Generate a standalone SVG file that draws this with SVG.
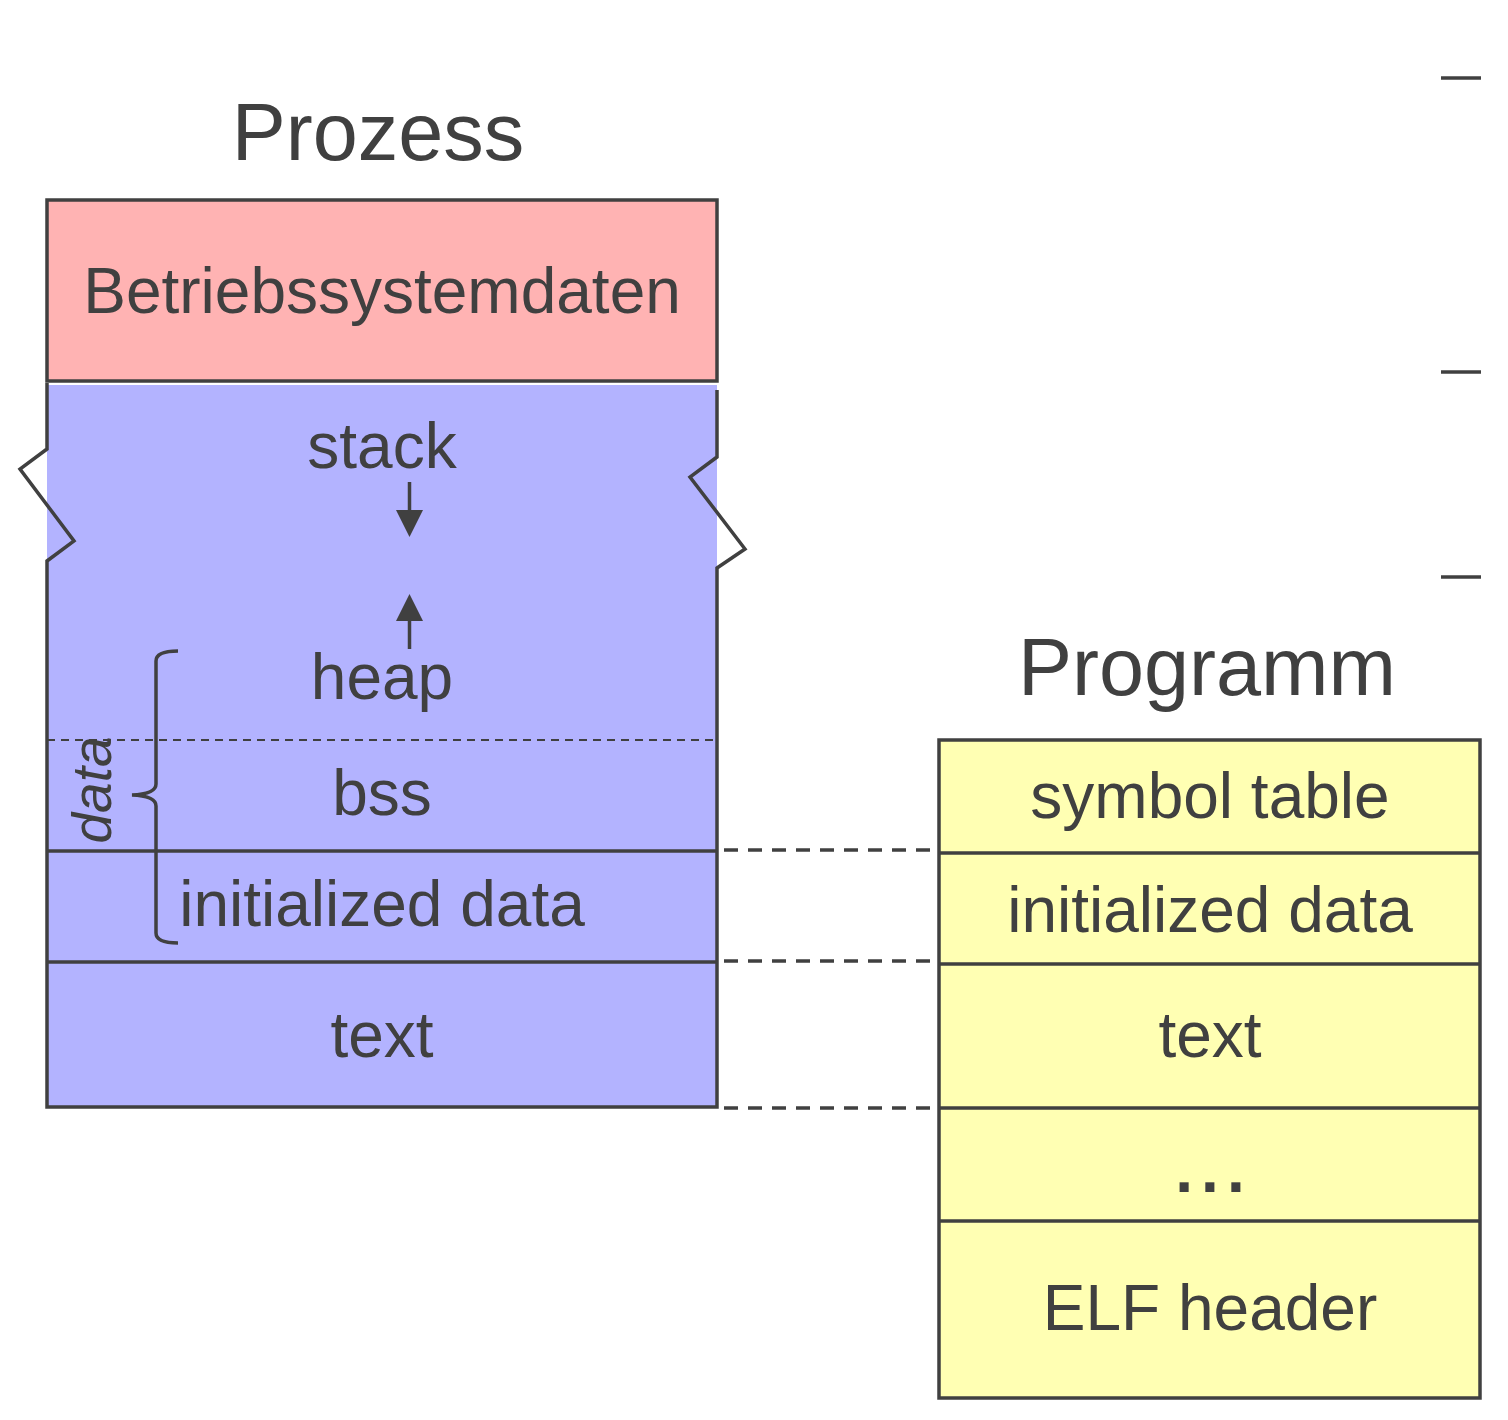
<svg xmlns="http://www.w3.org/2000/svg" width="1508" height="1420" viewBox="0 0 1508 1420">
<style>
.t{font-family:"Liberation Sans",Arial,Helvetica,sans-serif;fill:#404040;text-anchor:middle}
.lbl{font-size:64px}
.ttl{font-size:81px}
.ln{stroke:#404040;stroke-width:3.5;fill:none}
.dash{stroke:#404040;stroke-width:3.5;stroke-dasharray:14 10;fill:none}
.dash2{stroke:#404040;stroke-width:2.2;stroke-dasharray:8 6;fill:none}
</style>
<rect width="1508" height="1420" fill="#ffffff"/>
<g id="ticks">
<line class="ln" x1="1441" y1="78" x2="1481" y2="78" stroke-width="4.5"/>
<line class="ln" x1="1441" y1="372" x2="1481" y2="372" stroke-width="4.5"/>
<line class="ln" x1="1441" y1="577" x2="1481" y2="577" stroke-width="4.5"/>
</g>
<text class="t ttl" x="378" y="160">Prozess</text>
<text class="t ttl" x="1207" y="695" font-size="83">Programm</text>
<g id="betriebssystemdaten">
<rect x="47" y="200" width="670" height="181" fill="#ffb3b3" stroke="#404040" stroke-width="3.5"/>
<text class="t lbl" x="382" y="313">Betriebssystemdaten</text>
</g>
<g id="prozess-memory">
<rect x="47" y="385" width="670" height="722" fill="#b3b3ff"/>
<path class="ln" d="M47,383 L47,449 L20,469 L74,541 L47,561 L47,1107 L717,1107 L717,568 L745,549 L690,477 L717,457 L717,390"/>
<line class="dash2" x1="47" y1="740" x2="717" y2="740"/>
<line class="ln" x1="47" y1="851" x2="717" y2="851"/>
<line class="ln" x1="47" y1="962" x2="717" y2="962"/>
</g>
<g id="stack">
<text class="t lbl" x="382" y="468">stack</text>
<line class="ln" x1="409.5" y1="482" x2="409.5" y2="514" stroke-width="4.5"/>
<polygon points="396,510 423,510 409.5,537" fill="#404040"/>
</g>
<g id="heap">
<polygon points="396,621 423,621 409.5,594" fill="#404040"/>
<line class="ln" x1="409.5" y1="617" x2="409.5" y2="649" stroke-width="4.5"/>
<text class="t lbl" x="382" y="699">heap</text>
</g>
<g id="bss"><text class="t lbl" x="382" y="815">bss</text></g>
<g id="initialized-data-left"><text class="t lbl" x="382" y="926">initialized data</text></g>
<g id="text-left"><text class="t lbl" x="382" y="1057">text</text></g>
<g id="data-brace">
<path class="ln" d="M178,651 Q156,651 156,661 L156,784 Q156,794 132,795 Q156,796 156,806 L156,933 Q156,943 178,943"/>
<text class="t" font-size="55" font-style="italic" transform="translate(111,790) rotate(-90)">data</text>
</g>
<g id="programm">
<rect x="939" y="740" width="541" height="658" fill="#ffffb3" stroke="#404040" stroke-width="3.5"/>
<line class="ln" x1="939" y1="853" x2="1480" y2="853"/>
<line class="ln" x1="939" y1="964" x2="1480" y2="964"/>
<line class="ln" x1="939" y1="1108" x2="1480" y2="1108"/>
<line class="ln" x1="939" y1="1221" x2="1480" y2="1221"/>
<text class="t lbl" x="1210" y="818">symbol table</text>
<text class="t lbl" x="1210" y="932">initialized data</text>
<text class="t lbl" x="1210" y="1057">text</text>
<text class="t lbl" x="1214" y="1192" font-weight="bold" letter-spacing="8">...</text>
<text class="t lbl" x="1210" y="1330">ELF header</text>
</g>
<g id="connectors">
<line class="dash" x1="724" y1="850" x2="934" y2="850"/>
<line class="dash" x1="724" y1="961" x2="934" y2="961"/>
<line class="dash" x1="724" y1="1108" x2="934" y2="1108"/>
</g>
</svg>
